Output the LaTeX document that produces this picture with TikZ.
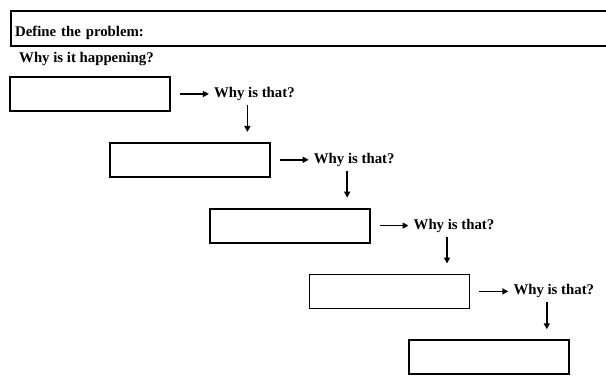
\documentclass[tikz,border=0pt]{standalone}
\usepackage{fontspec}
\setmainfont{Liberation Serif}
\usepackage{tikz}
\usetikzlibrary{arrows.meta,positioning}

\tikzset{
  whybox/.style={draw,line width=1.8pt,minimum width=160pt,minimum height=34pt,inner sep=0pt},
  whytext/.style={inner sep=2pt,font=\fontsize{14.8}{17}\selectfont\bfseries},
  arr/.style={-{Triangle[length=6pt,width=6pt]},line width=1.7pt}
}

\begin{document}
\begin{tikzpicture}[x=1pt,y=-1pt]
\useasboundingbox (0,0) rectangle (606,378);
\node[draw,line width=2.2pt,anchor=north west,minimum width=620pt,minimum height=35pt,
  text width=612pt,align=left,inner xsep=3pt,text height=18pt,text depth=3pt,whytext] (problem) at (10,10) {Define the problem:};
\node[whytext,anchor=west] (happening) at (17,59) {Why is it happening?};
\foreach \i in {1,...,5}
  {\node[whybox] (b\i) at ({90+99.8*(\i-1)},{94+65.8*(\i-1)}) {};}
\foreach \i in {1,...,4}
  {\node[whytext,right=41pt of b\i] (w\i) {Why is that?};
   \draw[arr,shorten <=9pt,shorten >=3pt] (b\i) -- (w\i);}
\foreach \i/\j in {1/2,2/3,3/4,4/5}
  {\draw[arr,shorten <=2pt,shorten >=10pt] ([xshift=-7pt]w\i.south) -- ([xshift=-7pt]w\i.south |- b\j.north);}
\end{tikzpicture}
\end{document}
